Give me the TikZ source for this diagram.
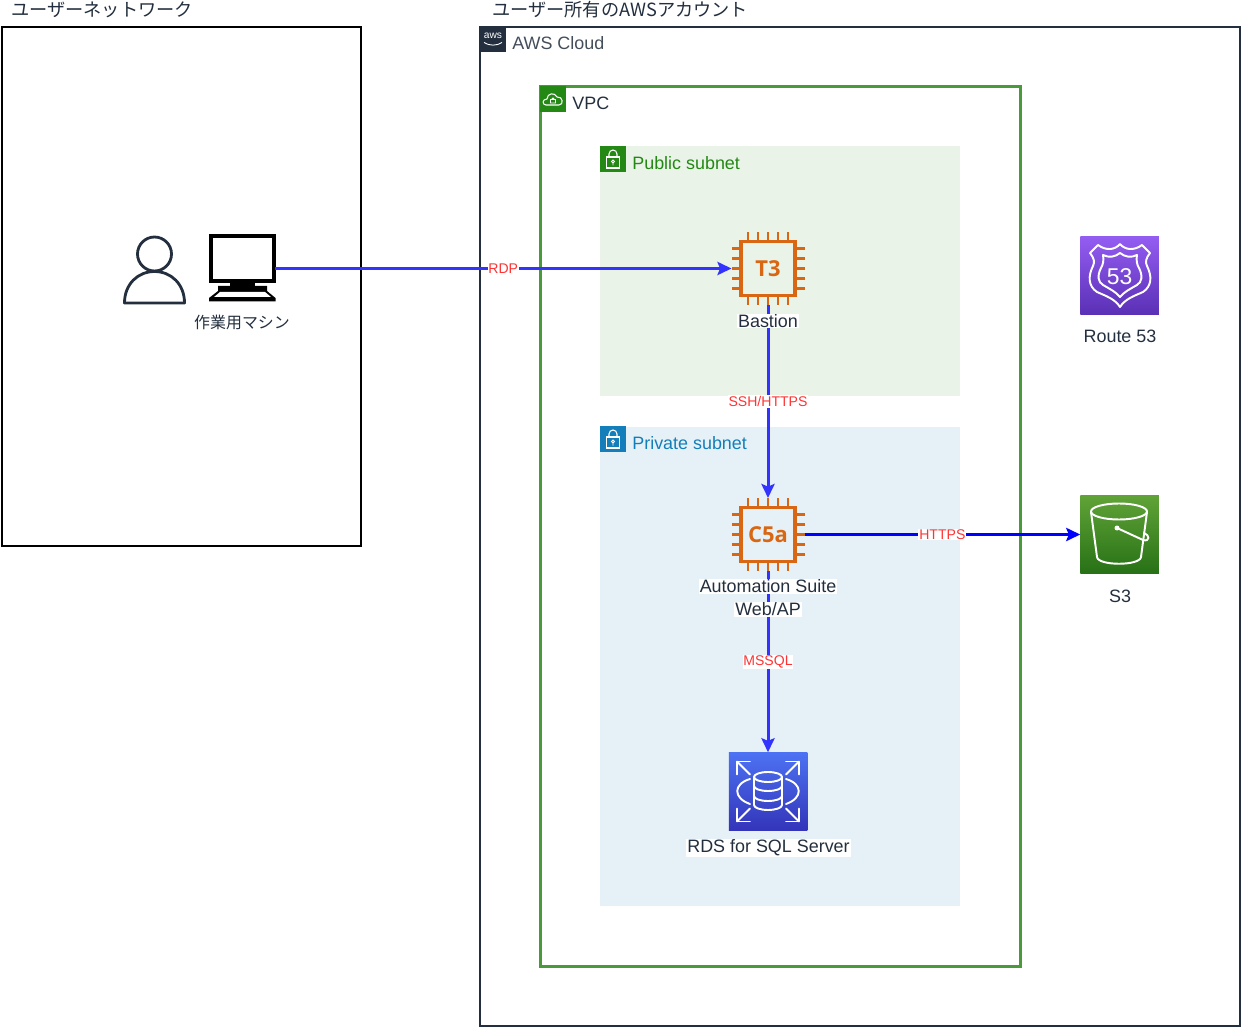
\documentclass[tikz,border=0pt]{standalone}
\usepackage{fontspec}
\setmainfont{Liberation Sans}
\newfontfamily\jpfont{Noto Sans CJK JP}
\newfontfamily\chipfont{Open Sans}
\usetikzlibrary{arrows.meta}
\definecolor{awsdark}{HTML}{232F3E}
\definecolor{vpcgreen}{HTML}{4A9A3C}
\definecolor{subgreen}{HTML}{248814}
\definecolor{subblue}{HTML}{147EBA}
\definecolor{chiporange}{HTML}{D86613}
\definecolor{linkblue}{HTML}{3333FF}
\definecolor{linkred}{HTML}{FF3333}
\definecolor{r53top}{HTML}{945DF2}
\definecolor{r53low}{HTML}{5A30B5}
\definecolor{s3top}{HTML}{60A337}
\definecolor{s3low}{HTML}{277116}
\definecolor{rdstop}{HTML}{4D72F3}
\definecolor{rdslow}{HTML}{3334B9}
\tikzset{
  box/.style={draw,outer sep=0pt,inner sep=0pt},
  badge/.style={outer sep=0pt,inner sep=0pt,minimum size=0.52cm},
  title/.style={anchor=west,inner sep=0pt,font=\fontsize{10.2}{12}\selectfont},
  caption/.style={inner sep=0pt,text=awsdark,align=center,font=\fontsize{10.2}{12.5}\selectfont},
  link/.style={-{Stealth[length=8pt,width=7.5pt,inset=1.5pt]},draw=linkblue,line width=1.7pt},
  linklabel/.style={fill=white,inner xsep=0.5pt,inner ysep=0.5pt,text=linkred,font=\fontsize{8}{10}\selectfont},
  service/.style={outer sep=0pt,inner sep=0pt,minimum size=1.57cm},
  icon/.style={draw=white,line width=1.1pt,line join=round,line cap=round},
  chippin/.style={draw=chiporange,line width=1.6pt}
}
\begin{document}
\begin{tikzpicture}[x=0.02cm,y=-0.02cm]
  \useasboundingbox (0,0) rectangle (1241,1027);

  \node[box,line width=1.15pt,minimum width=7.2cm,minimum height=10.4cm] (UserNet) at (181.5,286.5) {};
  \node[box,draw=awsdark,line width=1.1pt,minimum width=15.2cm,minimum height=20cm] (Cloud) at (860,526.5) {};
  \node[box,draw=vpcgreen,line width=1.3pt,minimum width=9.6cm,minimum height=17.6cm] (VPC) at (780.5,526.5) {};
  \node[outer sep=0pt,fill=subgreen!10,minimum width=7.2cm,minimum height=5cm] (Public) at (780,271) {};
  \node[outer sep=0pt,fill=subblue!11,minimum width=7.2cm,minimum height=9.6cm] (Private) at (780,666.5) {};

  \node[badge,fill=awsdark] (CloudBadge) at (493,39.5) {};
  \node[badge,fill=subgreen] (VPCBadge) at (553,99) {};
  \node[badge,fill=subgreen] (PublicBadge) at (613,159) {};
  \node[badge,fill=subblue] (PrivateBadge) at (613,439) {};

  \node[inner sep=0pt,text=white,font=\fontsize{5.8}{7}\selectfont] (CloudMark) at (493,36) {aws};
  \draw[white,line width=0.5pt] (484,42.5) .. controls (489,46) and (497,46) .. (502,42.5);
  \draw[white,line width=0.6pt,line join=round] (546,105) .. controls (542,105) and (542,99) .. (547,99)
    .. controls (547,93) and (555,92) .. (557,97) .. controls (563,96) and (564,105) .. (559,105) -- cycle;
  \draw[white,line width=0.5pt] (550.5,99.5) rectangle (555.5,103) (551.5,99.5) arc (180:360:1.5);

  \foreach \bx/\by in {613/159, 613/439} {
    \draw[white,line width=0.6pt] (\bx-6.5,\by-2) rectangle (\bx+6.5,\by+9);
    \draw[white,line width=0.6pt] (\bx-4,\by-2) -- (\bx-4,\by-5) arc (180:360:4) -- (\bx+4,\by-2);
    \draw[white,line width=0.5pt] (\bx,\by+2.5) circle (1.5) (\bx,\by+4) -- (\bx,\by+6.5);
  }

  \node[circle,draw=awsdark,line width=1.6pt,inner sep=0pt,minimum size=0.68cm] (UserHead) at (154.5,254) {};
  \draw[awsdark,line width=1.6pt,line join=round] (124.5,303) .. controls (124.5,284) and (138,271.5) .. (154.5,271.5)
    .. controls (171,271.5) and (184.5,284) .. (184.5,303) -- cycle;

  \node[box,fill=white,line width=2.4pt,minimum width=1.26cm,minimum height=0.9cm] (Screen) at (242.3,258.5) {};
  \fill[black] (230,282) rectangle (255,287);
  \fill[black] (218,286) -- (267,286) -- (267,291) -- (275.5,298) -- (275.5,301.5) -- (209,301.5) -- (209,298) -- (218,291) -- cycle;
  \fill[white] (220,292) -- (265,292) -- (271,297) -- (214,297) -- cycle;
  \coordinate (PC) at (275,268.5);

  \foreach \name/\x/\y/\txt in {T3/768/268.5/T3, C5a/768/534.5/C5a} {
    \node[outer sep=0pt,inner sep=0pt,minimum size=1.46cm] (\name) at (\x,\y) {};
    \node[box,draw=chiporange,line width=1.8pt,minimum size=1.08cm,text=chiporange,
      font=\chipfont\bfseries\fontsize{12.5}{12.5}\selectfont] (\name Box) at (\x,\y) {\txt};
    \foreach \d in {-20,-10,0,10,20} {
      \draw[chippin] (\x+\d,\y-27) -- (\x+\d,\y-36.5);
      \draw[chippin] (\x+\d,\y+27) -- (\x+\d,\y+36.5);
      \draw[chippin] (\x-27,\y+\d) -- (\x-36.5,\y+\d);
      \draw[chippin] (\x+27,\y+\d) -- (\x+36.5,\y+\d);
    }
  }

  \node[service,top color=r53top,bottom color=r53low] (R53) at (1119.5,275.5) {};
  \node[service,top color=s3top,bottom color=s3low] (S3) at (1119.5,534.5) {};
  \node[service,top color=rdstop,bottom color=rdslow] (RDS) at (768,791.5) {};

  \draw[icon] (1120,244) .. controls (1115,250) and (1106,251) .. (1098,245) -- (1090,253)
    .. controls (1094,258) and (1095,262) .. (1093,266) .. controls (1088,276) and (1088,286) .. (1097,292)
    .. controls (1106,296) and (1115,299) .. (1120,307) .. controls (1125,299) and (1134,296) .. (1143,292)
    .. controls (1152,286) and (1152,276) .. (1147,266) .. controls (1145,262) and (1146,258) .. (1150,253)
    -- (1142,245) .. controls (1134,251) and (1125,250) .. (1120,244) -- cycle;
  \draw[icon] (1120,253) .. controls (1115,257) and (1109,258) .. (1103,255)
    .. controls (1104,260) and (1103,265) .. (1101,268) .. controls (1097,276) and (1098,282) .. (1103,285)
    .. controls (1110,289) and (1116,292) .. (1120,297) .. controls (1124,292) and (1130,289) .. (1137,285)
    .. controls (1142,282) and (1143,276) .. (1139,268) .. controls (1137,265) and (1136,260) .. (1137,255)
    .. controls (1131,258) and (1125,257) .. (1120,253) -- cycle;
  \node[inner sep=0pt,text=white,font=\fontsize{13}{13}\selectfont] (R53Mark) at (1119.5,277) {53};

  \draw[icon] (1119,511.5) ellipse [x radius=28,y radius=8];
  \draw[icon] (1091,512) -- (1097,557) .. controls (1098,566) and (1140,566) .. (1141,557) -- (1147,512);
  \draw[icon] (1117,528) -- (1143,540) .. controls (1150,542) and (1150,535) .. (1144,533);
  \fill[white] (1117,528) circle (2.5);

  \draw[icon] (754,777) -- (754,805) arc (180:0:14 and 5) -- (782,777);
  \draw[icon] (768,777) ellipse [x radius=14,y radius=5];
  \draw[icon] (754,786) arc (180:0:14 and 5) (754,796) arc (180:0:14 and 5);
  \draw[icon] (750,779) .. controls (733,784) and (733,798) .. (750,804);
  \draw[icon] (786,779) .. controls (803,784) and (803,798) .. (786,804);
  \foreach \sx/\sy in {-1/-1, 1/-1, -1/1, 1/1} {
    \draw[icon] (768+\sx*18,791.5+\sy*30) -- (768+\sx*31,791.5+\sy*30) -- (768+\sx*31,791.5+\sy*17);
    \draw[icon] (768+\sx*31,791.5+\sy*30) -- (768+\sx*18,791.5+\sy*17);
  }

  \path (PC) edge[link] node[linklabel] {RDP} (T3);
  \path (T3) edge[link] node[linklabel] {SSH/HTTPS} (C5a);
  \path (C5a) edge[link,draw=blue] node[linklabel] {HTTPS} (S3);
  \path (C5a) edge[link] node[linklabel] {MSSQL} (RDS);

  \node[title,font=\jpfont\fontsize{10.35}{12}\selectfont,text=awsdark] (UserNetTitle) at (11,10) {ユーザーネットワーク};
  \node[title,font=\jpfont\fontsize{10.35}{12}\selectfont,text=awsdark] (CloudTitle) at (492,10) {ユーザー所有のAWSアカウント};
  \node[title,text=awsdark!85!white] (CloudLabel) at (512,43) {AWS Cloud};
  \node[title,text=awsdark] (VPCLabel) at (572,103) {VPC};
  \node[title,text=subgreen] (PublicLabel) at (632,163) {Public subnet};
  \node[title,text=subblue] (PrivateLabel) at (632,443) {Private subnet};

  \node[caption,font=\jpfont\fontsize{9.07}{11}\selectfont] (PCLabel) at (242,322) {作業用マシン};
  \node[caption,fill=white,inner xsep=0.5pt,inner ysep=0.5pt] (BastionLabel) at (768,321) {Bastion};
  \node[caption] (SuiteLabel) at (768,598) {\setlength{\fboxsep}{0.5pt}\colorbox{white}{Automation Suite}\\[0.5pt]\setlength{\fboxsep}{0.5pt}\colorbox{white}{Web/AP}};
  \node[caption,fill=white,inner xsep=0.5pt,inner ysep=0.5pt] (RDSLabel) at (768.5,848) {RDS for SQL Server};
  \node[caption] (R53Label) at (1120,336) {Route 53};
  \node[caption] (S3Label) at (1120,596) {S3};
\end{tikzpicture}
\end{document}
